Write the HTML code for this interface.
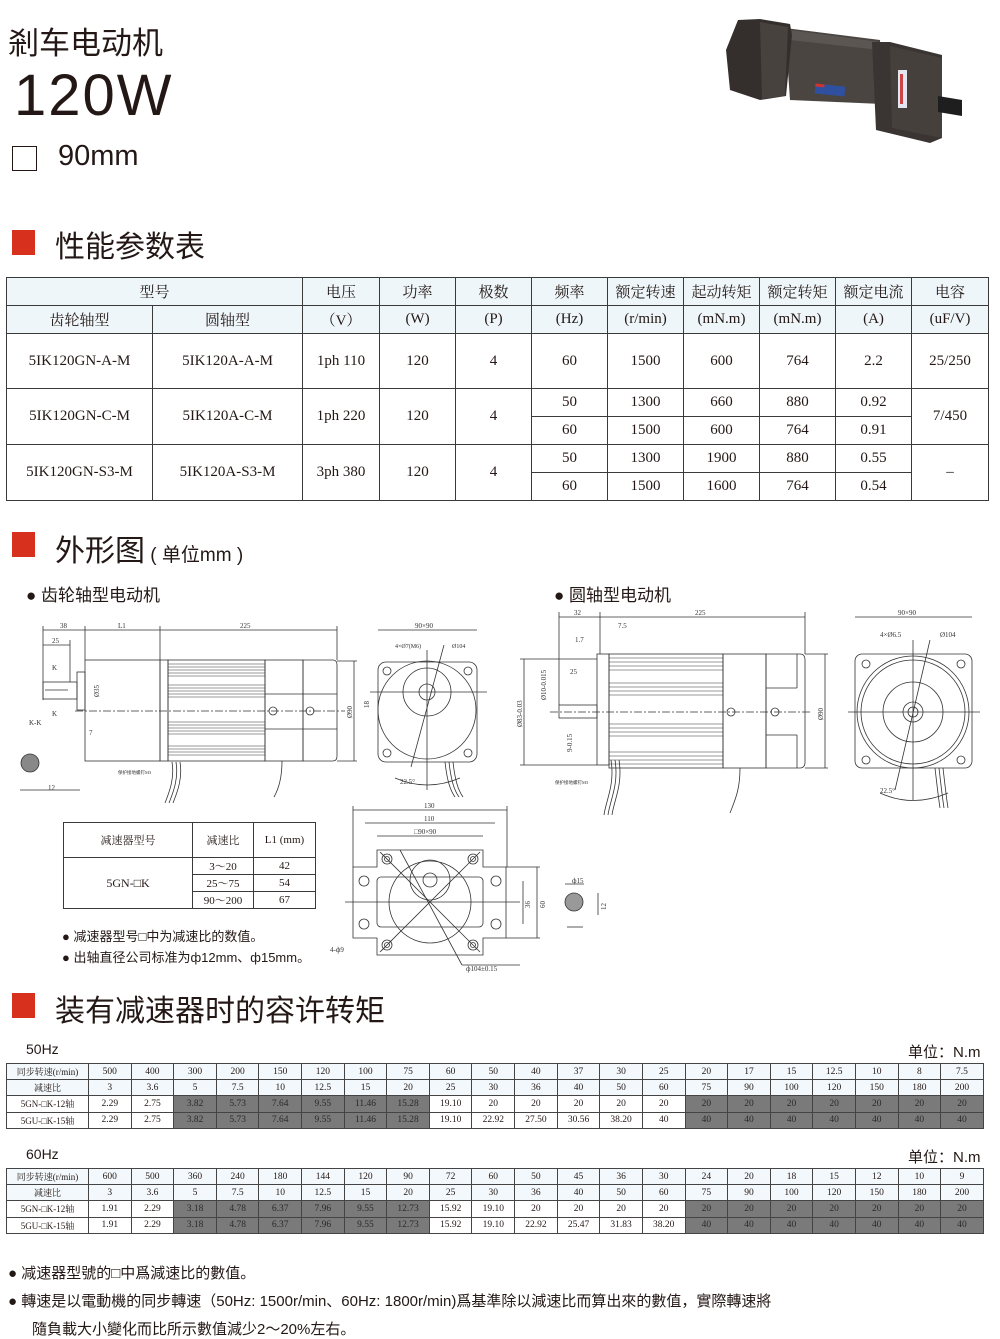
<!DOCTYPE html>
<html><head><meta charset="utf-8">
<style>
*{margin:0;padding:0;box-sizing:border-box}
body{width:1000px;height:1339px;background:#fff;position:relative;overflow:hidden;font-family:"Liberation Sans","Noto Sans CJK SC",sans-serif;color:#231815}
.a{position:absolute;white-space:nowrap}
.red{position:absolute;width:23px;height:25px;background:#d7301d}
table{position:absolute;border-collapse:collapse;font-family:"Liberation Serif","Noto Serif CJK SC",serif;color:#231815;table-layout:fixed}
td{border:1.5px solid #3a3a3a;text-align:center;padding:0;white-space:nowrap;overflow:hidden}
.hd td{background:#eef6fa}
#spec td{font-size:15px}
.tq td{font-size:9.5px;height:16.2px;border:1px solid #444}
.tq td.f{font-size:9px}
.tq .g{background:#7a7a7a;color:#2a2a2a}
.tq .h{background:#f2f8fb}
</style></head><body>

<div class="a" style="left:8px;top:18px;font-size:31px;">剎车电动机</div>
<div class="a" style="left:14px;top:62px;font-size:58px;letter-spacing:2px;">120W</div>
<div class="a" style="left:12px;top:146px;width:25px;height:25px;border:1.6px solid #231815"></div>
<div class="a" style="left:58px;top:140px;font-size:29px;">90mm</div>

<!-- motor photo -->
<svg class="a" style="left:0;top:0" width="1000" height="160" viewBox="0 0 1000 160">
<!-- body -->
<polygon points="785,28 880,40 882,104 790,100" fill="#4a4541"/>
<polygon points="790,30 880,42 880,50 790,40" fill="#5b5651"/>
<rect x="815" y="85" width="30" height="10" fill="#2f4f9f" transform="rotate(6 830 90)"/>
<rect x="815" y="85" width="9" height="3" fill="#c33" transform="rotate(6 830 90)"/>
<!-- brake block -->
<polygon points="738,20 760,19 790,24 792,35 786,96 760,100 730,90 726,50" fill="#342f2c"/>
<polygon points="760,22 788,27 785,96 762,99" fill="#48423e"/>
<!-- gearbox -->
<polygon points="872,42 890,42 942,55 942,138 930,143 876,130" fill="#3a3532"/>
<polygon points="890,46 942,58 942,138 892,128" fill="#45403c"/>
<rect x="898" y="70" width="9" height="38" fill="#e3e6f0"/>
<rect x="900" y="74" width="3" height="30" fill="#c44"/>
<polygon points="938,96 962,100 962,116 938,112" fill="#1e1e1e"/>
</svg>

<div class="red" style="left:12px;top:230px"></div>
<div class="a" style="left:55px;top:222px;font-size:30px;">性能参数表</div>

<table id="spec" style="left:6px;top:277px;width:982px">
<colgroup><col style="width:146px"><col style="width:150px"><col style="width:77px"><col style="width:76px"><col style="width:76px"><col style="width:76px"><col style="width:76px"><col style="width:76px"><col style="width:76px"><col style="width:76px"><col style="width:77px"></colgroup>
<tr class="hd" style="height:28px"><td colspan="2">型号</td><td>电压</td><td>功率</td><td>极数</td><td>频率</td><td>额定转速</td><td>起动转矩</td><td>额定转矩</td><td>额定电流</td><td>电容</td></tr>
<tr class="hd" style="height:28px"><td>齿轮轴型</td><td>圆轴型</td><td>（V）</td><td>(W)</td><td>(P)</td><td>(Hz)</td><td>(r/min)</td><td>(mN.m)</td><td>(mN.m)</td><td>(A)</td><td>(uF/V)</td></tr>
<tr style="height:55px"><td>5IK120GN-A-M</td><td>5IK120A-A-M</td><td>1ph 110</td><td>120</td><td>4</td><td>60</td><td>1500</td><td>600</td><td>764</td><td>2.2</td><td>25/250</td></tr>
<tr style="height:28px"><td rowspan="2">5IK120GN-C-M</td><td rowspan="2">5IK120A-C-M</td><td rowspan="2">1ph 220</td><td rowspan="2">120</td><td rowspan="2">4</td><td>50</td><td>1300</td><td>660</td><td>880</td><td>0.92</td><td rowspan="2">7/450</td></tr>
<tr style="height:28px"><td>60</td><td>1500</td><td>600</td><td>764</td><td>0.91</td></tr>
<tr style="height:28px"><td rowspan="2">5IK120GN-S3-M</td><td rowspan="2">5IK120A-S3-M</td><td rowspan="2">3ph 380</td><td rowspan="2">120</td><td rowspan="2">4</td><td>50</td><td>1300</td><td>1900</td><td>880</td><td>0.55</td><td rowspan="2">–</td></tr>
<tr style="height:28px"><td>60</td><td>1500</td><td>1600</td><td>764</td><td>0.54</td></tr>
</table>

<div class="red" style="left:12px;top:532px"></div>
<div class="a" style="left:55px;top:526px;font-size:30px;">外形图<span style="font-size:19px"> ( 单位mm )</span></div>
<div class="a" style="left:26px;top:581px;font-size:17px;">● 齿轮轴型电动机</div>
<div class="a" style="left:554px;top:581px;font-size:17px;">● 圆轴型电动机</div>

<svg class="a" style="left:0;top:600px" width="1000" height="380" viewBox="0 600 1000 380" font-family="Liberation Serif, serif" font-size="7" fill="none" stroke="#333" stroke-width="0.8">
<g>
<line x1="43" y1="630" x2="337" y2="630"/>
<line x1="43" y1="626" x2="43" y2="700"/><line x1="85" y1="626" x2="85" y2="660"/><line x1="160" y1="626" x2="160" y2="660"/><line x1="337" y1="626" x2="337" y2="660"/>
<line x1="43" y1="645" x2="70" y2="645"/><line x1="70" y1="640" x2="70" y2="682"/>
<rect x="85" y="660" width="75" height="101"/>
<rect x="77" y="672" width="8" height="38"/>
<rect x="43" y="682" width="34" height="17"/>
<line x1="45" y1="690" x2="68" y2="690"/>
<rect x="160" y="660" width="8" height="101"/>
<g stroke-width="0.6">
<line x1="168" y1="664" x2="265" y2="664"/><line x1="168" y1="667" x2="265" y2="667"/><line x1="168" y1="670" x2="265" y2="670"/><line x1="168" y1="673" x2="265" y2="673"/><line x1="168" y1="676" x2="265" y2="676"/>
<line x1="168" y1="685" x2="265" y2="685"/><line x1="168" y1="688" x2="265" y2="688"/><line x1="168" y1="691" x2="265" y2="691"/><line x1="168" y1="694" x2="265" y2="694"/><line x1="168" y1="697" x2="265" y2="697"/>
<line x1="168" y1="722" x2="265" y2="722"/><line x1="168" y1="725" x2="265" y2="725"/><line x1="168" y1="728" x2="265" y2="728"/><line x1="168" y1="731" x2="265" y2="731"/><line x1="168" y1="734" x2="265" y2="734"/>
<line x1="168" y1="746" x2="265" y2="746"/><line x1="168" y1="749" x2="265" y2="749"/><line x1="168" y1="752" x2="265" y2="752"/><line x1="168" y1="755" x2="265" y2="755"/>
</g>
<rect x="168" y="660" width="97" height="101"/>
<rect x="265" y="660" width="38" height="101"/>
<path d="M303 660 H333 Q337 660 337 665 V756 Q337 761 333 761 H303 Z"/>
<line x1="265" y1="694" x2="337" y2="694"/><line x1="265" y1="729" x2="337" y2="729"/>
<circle cx="273" cy="711" r="4"/><circle cx="310" cy="711" r="4"/>
<line x1="75" y1="711" x2="345" y2="711" stroke-dasharray="8 2 2 2"/>
<line x1="337" y1="661" x2="357" y2="661"/><line x1="337" y1="761" x2="357" y2="761"/><line x1="354" y1="661" x2="354" y2="761"/>
<path d="M172 762 C175 780 168 795 165 803 M176 762 C179 780 172 795 169 803 M180 762 C183 780 176 795 173 803" />
<path d="M282 761 C282 780 278 790 274 797"/>
<circle cx="30" cy="763" r="9" fill="#888"/>
<line x1="20" y1="790" x2="80" y2="790"/>
</g>
<g fill="#333" stroke="none">
<text x="60" y="628">38</text><text x="118" y="628">L1</text><text x="240" y="628">225</text><text x="52" y="643">25</text>
<text x="52" y="670">K</text><text x="52" y="716">K</text><text x="29" y="725">K-K</text>
<text x="99" y="697" transform="rotate(-90 99 697)">Ø35</text><text x="352" y="718" transform="rotate(-90 352 718)">Ø90</text>
<text x="89" y="735">7</text><text x="48" y="790">12</text>
<text x="118" y="774" font-size="4.5">保护接地螺钉M3</text>
</g>
<g>
<line x1="378" y1="630" x2="477" y2="630"/>
<text x="415" y="628" fill="#333" stroke="none">90×90</text>
<text x="395" y="648" fill="#333" stroke="none" font-size="6">4×Ø7(M6)</text>
<text x="452" y="648" fill="#333" stroke="none" font-size="6">Ø104</text>
<rect x="378" y="662" width="99" height="100" rx="8"/>
<circle cx="427" cy="710" r="49"/>
<circle cx="427" cy="692" r="24"/>
<circle cx="427" cy="692" r="8"/>
<circle cx="387" cy="671" r="4"/><circle cx="468" cy="671" r="4"/><circle cx="387" cy="753" r="4"/><circle cx="468" cy="753" r="4"/>
<line x1="370" y1="692" x2="487" y2="692"/><line x1="427" y1="650" x2="427" y2="790"/>
<line x1="444" y1="645" x2="411" y2="767"/>
<path d="M395 778 Q427 792 460 778"/>
<text x="400" y="784" fill="#333" stroke="none">22.5°</text>
<path d="M445 762 C447 780 450 790 455 797 M449 762 C451 780 454 790 459 797 M453 762 C455 780 458 790 463 797"/>
<text x="369" y="708" fill="#333" stroke="none" transform="rotate(-90 369 708)">18</text>
</g>

<g>
<line x1="559" y1="617" x2="805" y2="617"/><line x1="559" y1="612" x2="559" y2="705"/><line x1="600" y1="612" x2="600" y2="654"/><line x1="805" y1="612" x2="805" y2="654"/>
<rect x="597" y="654" width="12" height="111"/>
<rect x="559" y="705" width="38" height="13"/>
<rect x="609" y="654" width="114" height="114"/>
<g stroke-width="0.6">
<line x1="609" y1="658" x2="723" y2="658"/><line x1="609" y1="662" x2="723" y2="662"/><line x1="609" y1="666" x2="723" y2="666"/><line x1="609" y1="670" x2="723" y2="670"/>
<line x1="609" y1="683" x2="723" y2="683"/><line x1="609" y1="687" x2="723" y2="687"/><line x1="609" y1="691" x2="723" y2="691"/><line x1="609" y1="695" x2="723" y2="695"/>
<line x1="609" y1="724" x2="723" y2="724"/><line x1="609" y1="728" x2="723" y2="728"/><line x1="609" y1="732" x2="723" y2="732"/><line x1="609" y1="736" x2="723" y2="736"/>
<line x1="609" y1="752" x2="723" y2="752"/><line x1="609" y1="756" x2="723" y2="756"/><line x1="609" y1="760" x2="723" y2="760"/><line x1="609" y1="764" x2="723" y2="764"/>
</g>
<rect x="723" y="654" width="43" height="114"/>
<path d="M766 654 H800 Q805 654 805 660 V762 Q805 768 800 768 H766 Z"/>
<line x1="766" y1="688" x2="797" y2="688"/><line x1="797" y1="688" x2="797" y2="654"/>
<line x1="766" y1="735" x2="797" y2="735"/><line x1="797" y1="735" x2="797" y2="768"/>
<circle cx="731" cy="712" r="4"/><circle cx="775" cy="712" r="4"/>
<line x1="550" y1="712" x2="812" y2="712" stroke-dasharray="8 2 2 2"/>
<line x1="805" y1="654" x2="828" y2="654"/><line x1="805" y1="768" x2="828" y2="768"/><line x1="825" y1="654" x2="825" y2="768"/>
<line x1="520" y1="659" x2="597" y2="659"/><line x1="520" y1="765" x2="597" y2="765"/><line x1="524" y1="659" x2="524" y2="765"/>
<path d="M611 760 C615 785 606 800 604 815 M615 760 C619 785 610 800 608 815 M619 760 C623 785 614 800 612 815"/>
<path d="M740 768 C740 790 735 800 730 813"/>
</g>
<g fill="#333" stroke="none">
<text x="574" y="615">32</text><text x="695" y="615">225</text><text x="618" y="628">7.5</text><text x="575" y="642">1.7</text><text x="570" y="674">25</text>
<text x="546" y="700" transform="rotate(-90 546 700)">Ø10-0.015</text>
<text x="522" y="727" transform="rotate(-90 522 727)">Ø83-0.03</text>
<text x="572" y="752" transform="rotate(-90 572 752)">9-0.15</text>
<text x="823" y="720" transform="rotate(-90 823 720)">Ø90</text>
<text x="555" y="784" font-size="4.5">保护接地螺钉M3</text>
</g>
<g>
<line x1="855" y1="617" x2="972" y2="617"/>
<text x="898" y="615" fill="#333" stroke="none">90×90</text>
<text x="880" y="637" fill="#333" stroke="none">4×Ø6.5</text>
<text x="940" y="637" fill="#333" stroke="none">Ø104</text>
<rect x="855" y="654" width="117" height="114" rx="7"/>
<circle cx="913" cy="712" r="56"/><circle cx="913" cy="712" r="52"/><circle cx="913" cy="712" r="30"/><circle cx="913" cy="712" r="10"/><circle cx="913" cy="712" r="5"/>
<circle cx="866" cy="664" r="4"/><circle cx="961" cy="664" r="4"/><circle cx="866" cy="760" r="4"/><circle cx="961" cy="760" r="4"/>
<line x1="848" y1="712" x2="980" y2="712"/><line x1="913" y1="640" x2="913" y2="800"/>
<line x1="930" y1="640" x2="895" y2="790"/>
<path d="M880 793 Q913 808 948 793"/>
<text x="880" y="793" fill="#333" stroke="none">22.5°</text>
<path d="M935 768 C937 785 938 795 940 808 M939 768 C941 785 942 795 944 808 M943 768 C945 785 946 795 948 808"/>
</g>

<g>
<line x1="353" y1="810" x2="507" y2="810"/><line x1="365" y1="823" x2="495" y2="823"/><line x1="377" y1="836" x2="483" y2="836"/>
<line x1="353" y1="806" x2="353" y2="867"/><line x1="507" y1="806" x2="507" y2="867"/>
<path d="M377 850 H483 V867 H506 V938 H483 V955 H377 V938 H353 V867 H377 Z"/>
<rect x="377" y="877" width="106" height="50" rx="4"/>
<circle cx="430" cy="902" r="41"/>
<circle cx="430" cy="880" r="20"/><circle cx="430" cy="880" r="7"/>
<circle cx="387" cy="859" r="5"/><circle cx="387" cy="859" r="2.5"/><circle cx="473" cy="859" r="5"/><circle cx="473" cy="859" r="2.5"/>
<circle cx="387" cy="945" r="5"/><circle cx="387" cy="945" r="2.5"/><circle cx="473" cy="945" r="5"/><circle cx="473" cy="945" r="2.5"/>
<circle cx="364" cy="881" r="5"/><circle cx="496" cy="881" r="5"/><circle cx="364" cy="924" r="5"/><circle cx="496" cy="924" r="5"/>
<line x1="345" y1="902" x2="520" y2="902"/>
<line x1="400" y1="850" x2="462" y2="965"/><line x1="380" y1="852" x2="480" y2="952"/><line x1="480" y1="852" x2="380" y2="952"/>
<line x1="506" y1="867" x2="540" y2="867"/><line x1="506" y1="938" x2="540" y2="938"/><line x1="537" y1="867" x2="537" y2="938"/><line x1="523" y1="881" x2="523" y2="924"/>
<line x1="462" y1="965" x2="520" y2="965"/>
<circle cx="574" cy="902" r="9" fill="#999"/>
<line x1="565" y1="884" x2="584" y2="884"/><line x1="598" y1="893" x2="598" y2="915"/><line x1="567" y1="927" x2="583" y2="927"/>
</g>
<g fill="#333" stroke="none">
<text x="424" y="808">130</text><text x="424" y="821">110</text><text x="414" y="834">□90×90</text>
<text x="530" y="908" transform="rotate(-90 530 908)">36</text><text x="545" y="908" transform="rotate(-90 545 908)">60</text>
<text x="466" y="971">ф104±0.15</text><text x="330" y="952">4-ф9</text>
<text x="572" y="883">ф15</text><text x="606" y="910" transform="rotate(-90 606 910)">12</text>
</g>
</svg>

<table style="left:63px;top:822px;width:252px;font-size:11px">
<colgroup><col style="width:129px"><col style="width:61px"><col style="width:62px"></colgroup>
<tr style="height:35px"><td>减速器型号</td><td>减速比</td><td>L1 (mm)</td></tr>
<tr style="height:17px"><td rowspan="3" style="font-size:12px">5GN-□K</td><td>3～20</td><td>42</td></tr>
<tr style="height:17px"><td>25～75</td><td>54</td></tr>
<tr style="height:17px"><td>90～200</td><td>67</td></tr>
</table>
<div class="a" style="left:62px;top:926px;font-size:13px;">● 减速器型号□中为减速比的数值。</div>
<div class="a" style="left:62px;top:947px;font-size:13px;">● 出轴直径公司标准为ф12mm、ф15mm。</div>

<div class="red" style="left:12px;top:993px"></div>
<div class="a" style="left:55px;top:986px;font-size:30px;">装有减速器时的容许转矩</div>

<div class="a" style="left:26px;top:1041px;font-size:14px;">50Hz</div>
<div class="a" style="left:908px;top:1041px;font-size:15px;">单位：N.m</div>
<table class="tq" style="left:6px;top:1063px;width:977px">
<colgroup><col style="width:82px"><col span="21" style="width:42.62px"></colgroup>
<tr class="h"><td class="f">同步转速(r/min)</td><td>500</td><td>400</td><td>300</td><td>200</td><td>150</td><td>120</td><td>100</td><td>75</td><td>60</td><td>50</td><td>40</td><td>37</td><td>30</td><td>25</td><td>20</td><td>17</td><td>15</td><td>12.5</td><td>10</td><td>8</td><td>7.5</td></tr>
<tr class="h"><td class="f">减速比</td><td>3</td><td>3.6</td><td>5</td><td>7.5</td><td>10</td><td>12.5</td><td>15</td><td>20</td><td>25</td><td>30</td><td>36</td><td>40</td><td>50</td><td>60</td><td>75</td><td>90</td><td>100</td><td>120</td><td>150</td><td>180</td><td>200</td></tr>
<tr><td class="f">5GN-□K-12轴</td><td>2.29</td><td>2.75</td><td class="g">3.82</td><td class="g">5.73</td><td class="g">7.64</td><td class="g">9.55</td><td class="g">11.46</td><td class="g">15.28</td><td>19.10</td><td>20</td><td>20</td><td>20</td><td>20</td><td>20</td><td class="g">20</td><td class="g">20</td><td class="g">20</td><td class="g">20</td><td class="g">20</td><td class="g">20</td><td class="g">20</td></tr>
<tr><td class="f">5GU-□K-15轴</td><td>2.29</td><td>2.75</td><td class="g">3.82</td><td class="g">5.73</td><td class="g">7.64</td><td class="g">9.55</td><td class="g">11.46</td><td class="g">15.28</td><td>19.10</td><td>22.92</td><td>27.50</td><td>30.56</td><td>38.20</td><td>40</td><td class="g">40</td><td class="g">40</td><td class="g">40</td><td class="g">40</td><td class="g">40</td><td class="g">40</td><td class="g">40</td></tr>
</table>

<div class="a" style="left:26px;top:1146px;font-size:14px;">60Hz</div>
<div class="a" style="left:908px;top:1146px;font-size:15px;">单位：N.m</div>
<table class="tq" style="left:6px;top:1168px;width:977px">
<colgroup><col style="width:82px"><col span="21" style="width:42.62px"></colgroup>
<tr class="h"><td class="f">同步转速(r/min)</td><td>600</td><td>500</td><td>360</td><td>240</td><td>180</td><td>144</td><td>120</td><td>90</td><td>72</td><td>60</td><td>50</td><td>45</td><td>36</td><td>30</td><td>24</td><td>20</td><td>18</td><td>15</td><td>12</td><td>10</td><td>9</td></tr>
<tr class="h"><td class="f">减速比</td><td>3</td><td>3.6</td><td>5</td><td>7.5</td><td>10</td><td>12.5</td><td>15</td><td>20</td><td>25</td><td>30</td><td>36</td><td>40</td><td>50</td><td>60</td><td>75</td><td>90</td><td>100</td><td>120</td><td>150</td><td>180</td><td>200</td></tr>
<tr><td class="f">5GN-□K-12轴</td><td>1.91</td><td>2.29</td><td class="g">3.18</td><td class="g">4.78</td><td class="g">6.37</td><td class="g">7.96</td><td class="g">9.55</td><td class="g">12.73</td><td>15.92</td><td>19.10</td><td>20</td><td>20</td><td>20</td><td>20</td><td class="g">20</td><td class="g">20</td><td class="g">20</td><td class="g">20</td><td class="g">20</td><td class="g">20</td><td class="g">20</td></tr>
<tr><td class="f">5GU-□K-15轴</td><td>1.91</td><td>2.29</td><td class="g">3.18</td><td class="g">4.78</td><td class="g">6.37</td><td class="g">7.96</td><td class="g">9.55</td><td class="g">12.73</td><td>15.92</td><td>19.10</td><td>22.92</td><td>25.47</td><td>31.83</td><td>38.20</td><td class="g">40</td><td class="g">40</td><td class="g">40</td><td class="g">40</td><td class="g">40</td><td class="g">40</td><td class="g">40</td></tr>
</table>

<div class="a" style="left:8px;top:1262px;font-size:15px;">● 减速器型號的□中爲減速比的數值。</div>
<div class="a" style="left:8px;top:1290px;font-size:15px;">● 轉速是以電動機的同步轉速（50Hz: 1500r/min、60Hz: 1800r/min)爲基準除以減速比而算出來的數值，實際轉速將</div>
<div class="a" style="left:32px;top:1318px;font-size:15px;">隨負載大小變化而比所示數值減少2～20%左右。</div>
</body></html>
